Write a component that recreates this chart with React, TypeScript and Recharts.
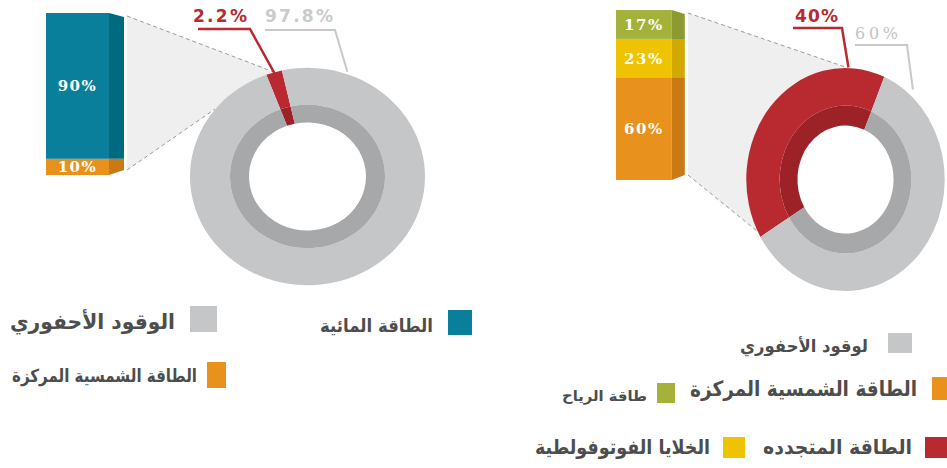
import React from "react";
import { BarChart, Bar, XAxis, YAxis, LabelList, PieChart, Pie, Cell } from "recharts";

// ----------------------------- Data -----------------------------
const leftBarKeys = ["solar", "hydro"]; // bottom -> top
const leftBarValues = [10, 90];
const rightBarKeys = ["solar", "pv", "wind"]; // bottom -> top
const rightBarValues = [60, 23, 17];

const leftDonutNames = ["الطاقة المتجددة", "الوقود الأحفوري"];
const leftDonutValues = [2.2, 97.8];
const rightDonutNames = ["الطاقة المتجدده", "الوقود الأحفوري"];
const rightDonutValues = [40, 60];

const leftLegendLabels = ["الطاقة المائية", "الوقود الأحفوري", "الطاقة الشمسية المركزة"];
const rightLegendLabels = [
  "لوقود الأحفوري",
  "الطاقة الشمسية المركزة",
  "طاقة الرياح",
  "الطاقة المتجدده",
  "الخلايا الفوتوفولطية",
];

// ----------------------------- Styles -----------------------------
const C = {
  teal: "#0a7f9b",
  tealSide: "#006a80",
  orange: "#e8921d",
  orangeSide: "#c97a14",
  olive: "#a4b23c",
  oliveSide: "#8d9a32",
  yellow: "#f0c300",
  yellowSide: "#d2a900",
  red: "#b92a30",
  redDark: "#9d2228",
  gray: "#c5c6c8",
  grayDark: "#a7a8aa",
  text: "#4d4d4d",
};

const leftBarFill: Record<string, [string, string]> = {
  solar: [C.orange, C.orangeSide],
  hydro: [C.teal, C.tealSide],
};
const rightBarFill: Record<string, [string, string]> = {
  solar: [C.orange, C.orangeSide],
  pv: [C.yellow, C.yellowSide],
  wind: [C.olive, C.oliveSide],
};

// layout of the two panels
const LB = { x: 42, y: 13, w: 70, h: 162, depth: 15 };
const RB = { x: 613, y: 10, w: 62, h: 170, depth: 13 };
const LP = { cx: 307.5, cy: 176, outer: 117.5, mid: 77.5, inner: 58.5, sx: 1, sy: 0.925, start: 110.5 };
const RP = { cx: 845, cy: 179, outer: 111.5, mid: 74, inner: 54, sx: 0.89, sy: 1, start: 211 };

const ARABIC = "'DejaVu Sans', sans-serif";

// ----------------------------- Helpers -----------------------------
const ringPoint = (p: typeof LP, r: number, deg: number) => {
  const a = (deg * Math.PI) / 180;
  return [p.cx + r * Math.cos(a) * p.sx, p.cy - r * Math.sin(a) * p.sy];
};

const box3d = (side: string, capTop: boolean, capBottom: boolean, depth: number) => (props: any) => {
  const { x, y, width, height, fill } = props;
  if (!height) return <g />;
  const t = capTop ? 4 : 0;
  const b = capBottom ? 5 : 0;
  const r = x + width;
  return (
    <g>
      <rect x={x} y={y} width={width} height={height} fill={fill} />
      <polygon
        points={`${r},${y} ${r + depth},${y + t} ${r + depth},${y + height - b} ${r},${y + height}`}
        fill={side}
      />
    </g>
  );
};

function StackBar({ keys, values, fills, box }: { keys: string[]; values: number[]; fills: Record<string, [string, string]>; box: typeof LB }) {
  const row: Record<string, any> = { name: "share" };
  keys.forEach((k, i) => (row[k] = values[i]));
  const pad = 6;
  return (
    <div style={{ position: "absolute", left: box.x, top: box.y - pad }}>
      <BarChart
        width={box.w + 20}
        height={box.h + pad * 2}
        data={[row]}
        margin={{ top: pad, right: 20, bottom: pad, left: 0 }}
        barCategoryGap={0}
      >
        <XAxis dataKey="name" hide />
        <YAxis hide domain={[0, 100]} />
        {keys.map((k, i) => (
          <Bar
            key={k}
            dataKey={k}
            stackId="a"
            barSize={box.w}
            fill={fills[k][0]}
            shape={box3d(fills[k][1], i === keys.length - 1, i === 0, box.depth)}
            isAnimationActive={false}
          >
            <LabelList
              dataKey={k}
              position="center"
              formatter={(v: any) => `${v}%`}
              fill="#fff"
              style={{ fontFamily: "'DejaVu Serif', serif", fontWeight: 700, fontSize: 15, letterSpacing: 1.5 }}
            />
          </Bar>
        ))}
      </BarChart>
    </div>
  );
}

function Donut({ names, values, p, light, dark }: { names: string[]; values: number[]; p: typeof LP; light: string[]; dark: string[] }) {
  const data = names.map((n, i) => ({ name: n, value: values[i] }));
  const size = Math.ceil(p.outer * 2 + 4);
  const c = size / 2;
  return (
    <div
      style={{
        position: "absolute",
        left: p.cx - c,
        top: p.cy - c,
        width: size,
        height: size,
        transform: `scale(${p.sx}, ${p.sy})`,
        transformOrigin: "center center",
      }}
    >
      <PieChart width={size} height={size} margin={{ top: 0, right: 0, bottom: 0, left: 0 }}>
        <Pie data={data} dataKey="value" cx={c} cy={c} innerRadius={p.mid} outerRadius={p.outer} startAngle={p.start} endAngle={p.start - 360} stroke="none" isAnimationActive={false}>
          {data.map((d, i) => (
            <Cell key={d.name} fill={light[i]} stroke="none" />
          ))}
        </Pie>
        <Pie data={data} dataKey="value" cx={c} cy={c} innerRadius={p.inner} outerRadius={p.mid} startAngle={p.start} endAngle={p.start - 360} stroke="none" isAnimationActive={false}>
          {data.map((d, i) => (
            <Cell key={d.name} fill={dark[i]} stroke="none" />
          ))}
        </Pie>
      </PieChart>
    </div>
  );
}

function Connector({ box, p, a1, a2 }: { box: typeof LB; p: typeof LP; a1: number; a2: number }) {
  const A = [box.x + box.w + box.depth, box.y + 3];
  const B = [box.x + box.w + box.depth, box.y + box.h - 5];
  const P1 = ringPoint(p, p.outer, a1);
  const P2 = ringPoint(p, p.outer, a2);
  const arc: number[][] = [];
  for (let a = a1; a <= a2; a += 3) arc.push(ringPoint(p, p.outer - 12, a));
  const pts = [A, P1, ...arc, P2, B].map((q) => q.join(",")).join(" ");
  return (
    <g>
      <polygon points={pts} fill="#efefef" />
      <line x1={A[0]} y1={A[1]} x2={P1[0]} y2={P1[1]} stroke="#9a9a9a" strokeDasharray="4 3" />
      <line x1={B[0]} y1={B[1]} x2={P2[0]} y2={P2[1]} stroke="#9a9a9a" strokeDasharray="4 3" />
    </g>
  );
}

const Swatch = ({ x, y, w, h, fill }: { x: number; y: number; w: number; h: number; fill: string }) => (
  <rect x={x} y={y} width={w} height={h} fill={fill} />
);

const LegendText = ({ x, y, len, size, children }: { x: number; y: number; len: number; size: number; children: string }) => (
  <text
    x={x}
    y={y}
    textAnchor="end"
    dominantBaseline="central"
    fontFamily={ARABIC}
    fontWeight={700}
    fontSize={size}
    fill={C.text}
    textLength={len}
    lengthAdjust="spacingAndGlyphs"
  >
    {children}
  </text>
);

// ----------------------------- App -----------------------------
export default function App() {
  const lRedEnd = ringPoint(LP, LP.outer - 2, 106.5);
  const lGrayEnd = ringPoint(LP, LP.outer + 2, 70.5);
  const rRedEnd = ringPoint(RP, RP.outer, 88);
  const rGrayEnd = ringPoint(RP, RP.outer + 6, 49.5);

  return (
    <div style={{ position: "absolute", left: 0, top: 0, width: 947, height: 468, overflow: "hidden", background: "#fff" }}>
      <svg width={947} height={468} style={{ position: "absolute", left: 0, top: 0 }}>
        <Connector box={LB} p={LP} a1={106.7} a2={142} />
        <Connector box={RB} p={RP} a1={89} a2={208} />
      </svg>

      <StackBar keys={leftBarKeys} values={leftBarValues} fills={leftBarFill} box={LB} />
      <StackBar keys={rightBarKeys} values={rightBarValues} fills={rightBarFill} box={RB} />

      <Donut names={leftDonutNames} values={leftDonutValues} p={LP} light={[C.red, C.gray]} dark={[C.redDark, C.grayDark]} />
      <Donut names={rightDonutNames} values={rightDonutValues} p={RP} light={[C.red, C.gray]} dark={[C.redDark, C.grayDark]} />

      <svg width={947} height={468} style={{ position: "absolute", left: 0, top: 0, pointerEvents: "none" }}>
        {/* left donut callouts */}
        <polyline points={`198,29 250,29 ${lRedEnd[0]},${lRedEnd[1]}`} fill="none" stroke={C.red} strokeWidth={2.5} />
        <polyline points={`265,30 335,30 ${lGrayEnd[0]},${lGrayEnd[1]}`} fill="none" stroke="#c9c9c9" strokeWidth={2} />
        <text x={193} y={22} fontFamily="'DejaVu Sans', sans-serif" fontWeight={700} fontSize={17} fill={C.red} textLength={54}>
          {`${leftDonutValues[0]}%`}
        </text>
        <text x={265} y={22} fontFamily="'DejaVu Sans', sans-serif" fontWeight={700} fontSize={17} fill="#cbcbcb" textLength={68}>
          {`${leftDonutValues[1]}%`}
        </text>

        {/* right donut callouts */}
        <polyline points={`793,28 842,28 ${rRedEnd[0]},${rRedEnd[1]}`} fill="none" stroke={C.red} strokeWidth={2.5} />
        <polyline points={`855,45 907,45 ${rGrayEnd[0]},${rGrayEnd[1]}`} fill="none" stroke="#c9c9c9" strokeWidth={2} />
        <text x={795} y={22} fontFamily="'DejaVu Sans', sans-serif" fontWeight={700} fontSize={17} fill={C.red} textLength={43}>
          {`${rightDonutValues[0]}%`}
        </text>
        <text x={855} y={39} fontFamily="'DejaVu Serif', serif" fontSize={16} fill="#c4c4c4" textLength={43}>
          {`${rightDonutValues[1]}%`}
        </text>

        {/* left legend */}
        <Swatch x={448} y={310} w={24} h={25} fill={C.teal} />
        <LegendText x={433} y={325} len={113} size={18}>{leftLegendLabels[0]}</LegendText>
        <Swatch x={190} y={306} w={27} h={26} fill={C.gray} />
        <LegendText x={175} y={322} len={165} size={21}>{leftLegendLabels[1]}</LegendText>
        <Swatch x={207} y={362} w={19} h={26} fill={C.orange} />
        <LegendText x={197} y={375} len={185} size={18}>{leftLegendLabels[2]}</LegendText>

        {/* right legend */}
        <Swatch x={888} y={333} w={24} h={20} fill={C.gray} />
        <LegendText x={868} y={346} len={128} size={17}>{rightLegendLabels[0]}</LegendText>
        <Swatch x={932} y={377} w={20} h={23} fill={C.orange} />
        <LegendText x={917} y={389} len={227} size={21}>{rightLegendLabels[1]}</LegendText>
        <Swatch x={657} y={383} w={18} h={20} fill={C.olive} />
        <LegendText x={647} y={396} len={85} size={14}>{rightLegendLabels[2]}</LegendText>
        <Swatch x={925} y={437} w={22} h={21} fill={C.red} />
        <LegendText x={912} y={447} len={149} size={20}>{rightLegendLabels[3]}</LegendText>
        <Swatch x={723} y={437} w={22} h={21} fill={C.yellow} />
        <LegendText x={710} y={447} len={175} size={20}>{rightLegendLabels[4]}</LegendText>
      </svg>
    </div>
  );
}
